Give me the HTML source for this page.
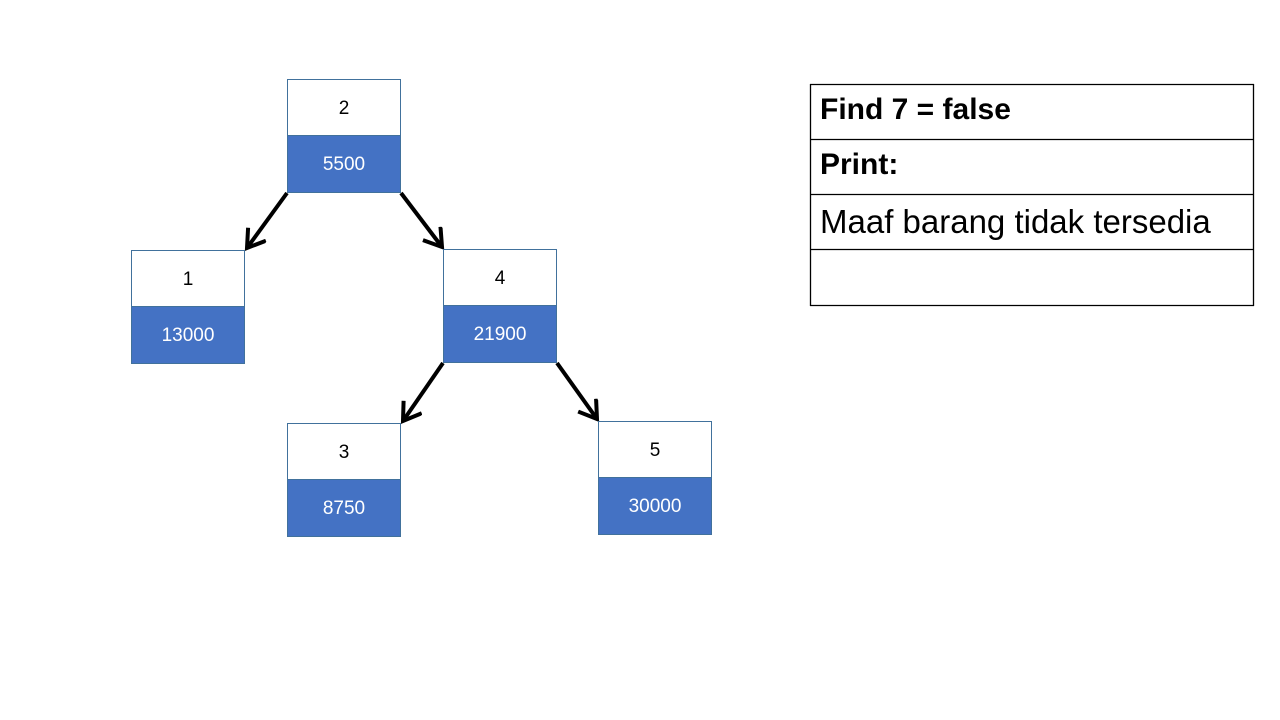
<!DOCTYPE html>
<html><head><meta charset="utf-8">
<style>
html,body{margin:0;padding:0;background:#fff;width:1280px;height:720px;overflow:hidden;font-family:"Liberation Sans",sans-serif;}
svg{position:absolute;left:0;top:0;}
</style></head>
<body>
<svg id="chart" width="1280" height="720">
<defs>
<marker id="ah" markerWidth="26" markerHeight="26" refX="18" refY="12" orient="auto" markerUnits="userSpaceOnUse">
<path d="M1,1 L18,12 L1,23" fill="none" stroke="#000" stroke-width="4"/>
</marker>
</defs>
<g id="edges"></g><g id="nodes"></g>
<g>
<line x1="810" y1="84.5" x2="1254" y2="84.5" stroke="#000" stroke-width="1.3"/>
<line x1="810" y1="139.5" x2="1254" y2="139.5" stroke="#000" stroke-width="1.3"/>
<line x1="810" y1="194.5" x2="1254" y2="194.5" stroke="#000" stroke-width="1.3"/>
<line x1="810" y1="249.5" x2="1254" y2="249.5" stroke="#000" stroke-width="1.3"/>
<line x1="810" y1="305.5" x2="1254" y2="305.5" stroke="#000" stroke-width="1.3"/>
<line x1="810.5" y1="84" x2="810.5" y2="306" stroke="#000" stroke-width="1.3"/>
<line x1="1253.5" y1="84" x2="1253.5" y2="306" stroke="#000" stroke-width="1.3"/>
<text x="820" y="119" font-size="30" font-weight="bold" fill="#000">Find 7 = false</text>
<text x="820" y="174" font-size="30" font-weight="bold" fill="#000">Print:</text>
<text x="820" y="233" font-size="33" fill="#000">Maaf barang tidak tersedia</text>
</g>
</svg>
<script>
const nodeKeys = [2, 1, 4, 3, 5];
const nodeValues = [5500, 13000, 21900, 8750, 30000];
const parentIndex = [-1, 0, 0, 2, 2];

// layout (not data)
const boxes = [[287,79],[131,250],[443,249],[287,423],[598,421]];
const W = 113, H = 113, HALF = 56;
const NS = "http://www.w3.org/2000/svg";
const gN = document.getElementById('nodes'), gE = document.getElementById('edges');

nodeKeys.forEach((k, i) => {
  const [x, y] = boxes[i];
  const g = document.createElementNS(NS, 'g');
  
  
  const top = document.createElementNS(NS, 'rect');
  top.setAttribute('x', x + 0.5); top.setAttribute('y', y + 0.5);
  top.setAttribute('width', W); top.setAttribute('height', HALF);
  top.setAttribute('fill', '#fff'); top.setAttribute('stroke', '#41719C'); top.setAttribute('stroke-width', '1');
  const bot = document.createElementNS(NS, 'rect');
  bot.setAttribute('x', x + 0.5); bot.setAttribute('y', y + HALF + 0.5);
  bot.setAttribute('width', W); bot.setAttribute('height', H - HALF);
  bot.setAttribute('fill', '#4472C4'); bot.setAttribute('stroke', '#41719C'); bot.setAttribute('stroke-width', '1');
  const t1 = document.createElementNS(NS, 'text');
  t1.setAttribute('x', x + W / 2 + 0.5); t1.setAttribute('y', y + 35);
  t1.setAttribute('text-anchor', 'middle'); t1.setAttribute('font-size', '19'); t1.setAttribute('fill', '#000');
  t1.textContent = k;
  
  
  const t2 = document.createElementNS(NS, 'text');
  t2.setAttribute('x', x + W / 2 + 0.5); t2.setAttribute('y', y + HALF + 35);
  t2.setAttribute('text-anchor', 'middle'); t2.setAttribute('font-size', '19'); t2.setAttribute('fill', '#fff');
  t2.textContent = nodeValues[i];
  
  
  g.append(top, bot, t1, t2);
  gN.appendChild(g);

  const p = parentIndex[i];
  if (p >= 0) {
    const [px, py] = boxes[p];
    const left = x < px;
    const x1 = left ? px : px + W + 1;
    const y1 = py + H + 1;
    const x2 = left ? x + W + 3 : x - 1;
    const y2 = y - 2;
    const ln = document.createElementNS(NS, 'line');
    ln.setAttribute('x1', x1); ln.setAttribute('y1', y1);
    ln.setAttribute('x2', x2); ln.setAttribute('y2', y2);
    ln.setAttribute('stroke', '#000'); ln.setAttribute('stroke-width', '4');
    ln.setAttribute('marker-end', 'url(#ah)');
    
    
    gE.appendChild(ln);
  }
});
</script>
</body></html>
